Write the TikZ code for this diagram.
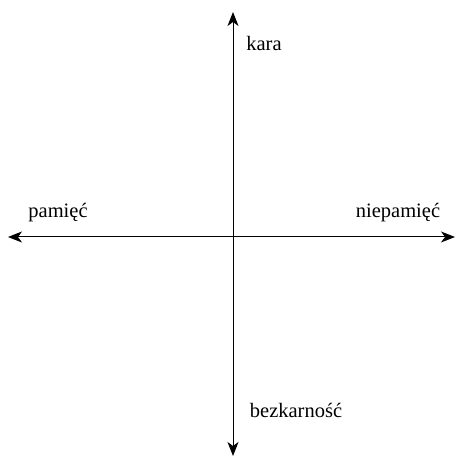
\documentclass[tikz,border=0pt]{standalone}
\usepackage{fontspec}
\setmainfont{Liberation Serif}
\usetikzlibrary{arrows.meta,positioning}

\begin{document}
\begin{tikzpicture}[x=1pt,y=1pt, axis/.style={{Stealth[length=14pt,width=11pt,inset=4pt]}-{Stealth[length=14pt,width=11pt,inset=4pt]},line width=1pt}, lbl/.style={font=\fontsize{20.5}{24}\selectfont,inner sep=0pt}]
\useasboundingbox (0,0) rectangle (455,458);
\coordinate (top) at (233,446);
\coordinate (bottom) at (233,2);
\coordinate (left) at (8,221);
\coordinate (right) at (455,221);
\node[lbl] (kara) at (264,415) {kara};
\node[lbl] (pamiec) at (58,245) {pamięć};
\node[lbl] (niepamiec) at (398,245) {niepamięć};
\node[lbl] (bezkarnosc) at (296,48) {bezkarność};
\draw[axis] (bottom)--(top);
\draw[axis] (left)--(right);
\end{tikzpicture}
\end{document}
